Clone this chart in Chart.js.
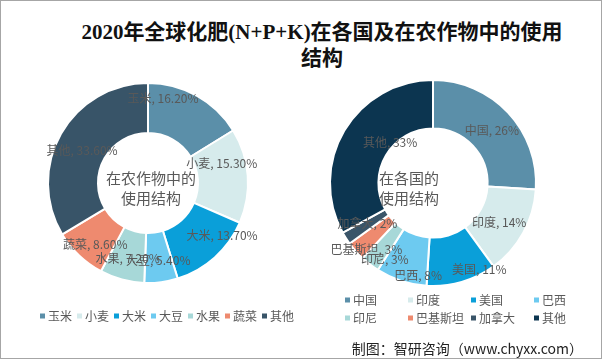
<!DOCTYPE html>
<html><head><meta charset="utf-8">
<script src="https://cdn.jsdelivr.net/npm/chart.js@4/dist/chart.umd.min.js"></script>
<style>
html,body{margin:0;padding:0;background:#fff;}
#wrap{position:relative;width:602px;height:359px;overflow:hidden;background:#fff;font-family:"Noto Sans CJK SC","Noto Sans",sans-serif;}
#frame{position:absolute;left:0;top:0;right:0;bottom:0;border:1px solid #a6a6a6;pointer-events:none;}
#title{position:absolute;left:42px;width:560px;top:19px;text-align:center;font-family:"Liberation Serif","Noto Sans CJK SC",serif;font-weight:bold;font-size:21px;line-height:26px;color:#111;}
#footer{position:absolute;right:19px;top:338px;font-size:14px;line-height:20px;color:#222;}
canvas{position:absolute;}
#c1{left:0;top:70px;}
#c2{left:300px;top:70px;}
</style></head>
<body><div id="wrap">
<div id="title">2020年全球化肥(N+P+K)在各国及在农作物中的使用<br>结构</div>
<canvas id="c1" width="300" height="270"></canvas>
<canvas id="c2" width="302" height="270"></canvas>
<div id="footer">制图：智研咨询（www.chyxx.com）</div>
<div id="frame"></div>
</div>
<script>
// ---- data ----
const cropLabels = ['玉米','小麦','大米','大豆','水果','蔬菜','其他'];
const cropValues = [16.2, 15.3, 13.7, 5.4, 7.2, 8.6, 33.6];
const countryLabels = ['中国','印度','美国','巴西','印尼','巴基斯坦','加拿大','其他'];
const countryValues = [26, 14, 11, 8, 3, 3, 2, 33];
const cropCenterText = ['在农作物中的','使用结构'];
const countryCenterText = ['在各国的','使用结构'];

// ---- styles ----
const cropColors = ['#5b8fa9','#d6ebec','#0a9fd9','#6dcaf0','#a7d8d8','#ee8a6f','#385468'];
const countryColors = ['#5b8fa9','#d6ebec','#0a9fd9','#6dcaf0','#a7d8d8','#ee8a6f','#3a5569','#0c3550'];
// small nudges of the value labels away from the slice middles (like the original's best-fit placement)
const cropLabelNudge = [[-23,-16],[-4,-14],[22,-6],[0,0],[0,0],[1,5],[2,6]];
const countryLabelNudge = [[-2,5],[-7,-1],[23,6],[11,13],[3,10],[-4,11],[5,-4],[29,2]];

const sliceLabels = {
  id: 'sliceLabels',
  afterDatasetsDraw(chart, args, opts) {
    const ctx = chart.ctx;
    const meta = chart.getDatasetMeta(0);
    const ds = chart.data.datasets[0];
    const nudge = opts.nudge || [];
    ctx.save();
    ctx.font = opts.font;
    ctx.fillStyle = opts.color;
    ctx.textAlign = 'center';
    ctx.textBaseline = 'middle';
    meta.data.forEach((arc, i) => {
      const p = arc.getProps(['x','y','startAngle','endAngle','innerRadius','outerRadius'], true);
      const a = (p.startAngle + p.endAngle) / 2;
      const r = (p.innerRadius + p.outerRadius) / 2 * opts.radiusFactor;
      const n = nudge[i] || [0,0];
      const txt = chart.data.labels[i] + ', ' + ds.data[i].toFixed(opts.decimals) + '%';
      ctx.fillText(txt, p.x + Math.cos(a) * r + n[0], p.y + Math.sin(a) * r + n[1]);
    });
    ctx.restore();
  }
};

const centerText = {
  id: 'centerText',
  afterDatasetsDraw(chart, args, opts) {
    const ctx = chart.ctx;
    const arc = chart.getDatasetMeta(0).data[0];
    if (!arc) return;
    ctx.save();
    ctx.font = opts.font;
    ctx.fillStyle = opts.color;
    ctx.textAlign = 'center';
    ctx.textBaseline = 'middle';
    const lines = opts.lines;
    for (let i = 0; i < lines.length; i++) {
      ctx.fillText(lines[i], arc.x + opts.dx, arc.y + opts.dy + i * opts.lineHeight);
    }
    ctx.restore();
  }
};

const boxLegend = {
  id: 'boxLegend',
  afterDraw(chart, args, opts) {
    const ctx = chart.ctx;
    const labels = chart.data.labels;
    const colors = chart.data.datasets[0].backgroundColor;
    ctx.save();
    ctx.font = opts.font;
    ctx.textBaseline = 'middle';
    ctx.textAlign = 'left';
    const box = opts.boxSize;
    if (opts.mode === 'flow') {
      const widths = labels.map(l => box + opts.boxGap + ctx.measureText(l).width);
      const total = widths.reduce((s, w) => s + w, 0) + opts.gap * (labels.length - 1);
      let x = opts.centerX - total / 2;
      labels.forEach((l, i) => {
        ctx.fillStyle = colors[i];
        ctx.fillRect(x, opts.y - box / 2, box, box);
        ctx.fillStyle = opts.color;
        ctx.fillText(l, x + box + opts.boxGap, opts.y);
        x += widths[i] + opts.gap;
      });
    } else {
      labels.forEach((l, i) => {
        const col = i % opts.cols, row = Math.floor(i / opts.cols);
        const x = opts.x + col * opts.colWidth;
        const y = opts.y + row * opts.rowHeight;
        ctx.fillStyle = colors[i];
        ctx.fillRect(x, y - box / 2, box, box);
        ctx.fillStyle = opts.color;
        ctx.fillText(l, x + box + opts.boxGap, y);
      });
    }
    ctx.restore();
  }
};

const labelFont = '12px "Noto Sans CJK SC", sans-serif';
const grey = '#595959';

new Chart(document.getElementById('c1'), {
  type: 'doughnut',
  data: {
    labels: cropLabels,
    datasets: [{ data: cropValues, backgroundColor: cropColors, borderColor: '#ffffff', borderWidth: 2 }]
  },
  options: {
    responsive: false,
    animation: false,
    cutout: '50%',
    layout: { padding: { left: 47, right: 51, top: 12, bottom: 56 } },
    plugins: {
      legend: { display: false },
      tooltip: { enabled: false },
      sliceLabels: { font: labelFont, color: grey, radiusFactor: 1.04, decimals: 2, nudge: cropLabelNudge },
      centerText: { lines: cropCenterText, font: '15px "Noto Sans CJK SC", sans-serif', color: grey, dx: 3, dy: -5, lineHeight: 20 },
      boxLegend: { mode: 'flow', centerX: 167, y: 246, boxSize: 5, boxGap: 3, gap: 5, font: labelFont, color: grey }
    }
  },
  plugins: [sliceLabels, centerText, boxLegend]
});

new Chart(document.getElementById('c2'), {
  type: 'doughnut',
  data: {
    labels: countryLabels,
    datasets: [{ data: countryValues, backgroundColor: countryColors, borderColor: '#ffffff', borderWidth: 2 }]
  },
  options: {
    responsive: false,
    animation: false,
    cutout: '53%',
    layout: { padding: { left: 29, right: 65, top: 9, bottom: 53 } },
    plugins: {
      legend: { display: false },
      tooltip: { enabled: false },
      sliceLabels: { font: labelFont, color: grey, radiusFactor: 1.06, decimals: 0, nudge: countryLabelNudge },
      centerText: { lines: countryCenterText, font: '15px "Noto Sans CJK SC", sans-serif', color: grey, dx: -24, dy: -5, lineHeight: 20 },
      boxLegend: { mode: 'grid', x: 45, y: 230, cols: 4, colWidth: 63, rowHeight: 18, boxSize: 5, boxGap: 3, font: labelFont, color: grey }
    }
  },
  plugins: [sliceLabels, centerText, boxLegend]
});
</script>
</body></html>
